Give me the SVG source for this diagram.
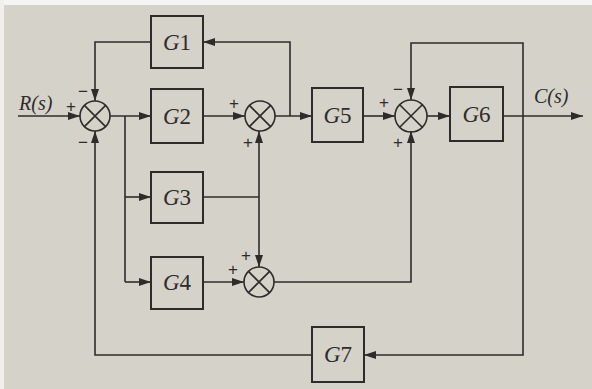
<svg xmlns="http://www.w3.org/2000/svg" width="592" height="389" viewBox="0 0 592 389">
<defs>
<marker id="ah" viewBox="0 0 12 8" refX="12" refY="4" markerWidth="12" markerHeight="8" markerUnits="userSpaceOnUse" orient="auto">
<path d="M0,0 L12,4 L0,8 z" fill="#2e2c2a"/>
</marker>
</defs>
<style>
.box{fill:none;stroke:#2e2c2a;stroke-width:2}
.sum{fill:none;stroke:#2e2c2a;stroke-width:1.6}
.w{fill:none;stroke:#2e2c2a;stroke-width:1.6}
.a{marker-end:url(#ah)}
.lbl{font-family:"Liberation Serif",serif;font-size:23px;fill:#2e2c2a;text-anchor:middle}
.sig{font-family:"Liberation Serif",serif;font-size:20px;font-style:italic;fill:#2e2c2a}
.sgn{font-family:"Liberation Sans",sans-serif;font-size:17px;fill:#2e2c2a;text-anchor:middle}
</style>
<rect x="0" y="0" width="592" height="389" fill="#d5d2ca"/>
<rect x="0" y="0" width="592" height="5" fill="#f4f4f2"/>
<rect x="0" y="0" width="4" height="389" fill="#f0efec"/>

<g id="connectors">
<path class="w a" d="M18,116 H80"/>
<path class="w a" d="M110,116 H151"/>
<path class="w a" d="M203,116 H245"/>
<path class="w a" d="M275,116 H312"/>
<path class="w a" d="M290,116 V42 H203"/>
<path class="w a" d="M151,42 H95 V101"/>
<path class="w" d="M125,116 V282"/>
<path class="w a" d="M125,197 H151"/>
<path class="w a" d="M125,282 H151"/>
<path class="w" d="M203,197 H259"/>
<path class="w a" d="M259,197 V131"/>
<path class="w a" d="M259,197 V267"/>
<path class="w a" d="M203,282 H244"/>
<path class="w a" d="M274,282 H411 V131"/>
<path class="w a" d="M363,116 H395"/>
<path class="w a" d="M427,116 H450"/>
<path class="w a" d="M503,116 H583"/>
<path class="w a" d="M523,116 V43 H411 V100"/>
<path class="w a" d="M523,116 V355 H364"/>
<path class="w a" d="M312,355 H95 V131"/>
</g>

<g id="S1"><circle class="sum" cx="95" cy="116" r="15"/><path class="sum" d="M84.4,105.4 L105.6,126.6 M105.6,105.4 L84.4,126.6"/></g>
<g id="S2"><circle class="sum" cx="260" cy="116" r="15"/><path class="sum" d="M249.4,105.4 L270.6,126.6 M270.6,105.4 L249.4,126.6"/></g>
<g id="S3"><circle class="sum" cx="259" cy="282" r="15"/><path class="sum" d="M248.4,271.4 L269.6,292.6 M269.6,271.4 L248.4,292.6"/></g>
<g id="S4"><circle class="sum" cx="411" cy="116" r="16"/><path class="sum" d="M399.7,104.7 L422.3,127.3 M422.3,104.7 L399.7,127.3"/></g>

<g id="G1"><rect class="box" x="151" y="16" width="52" height="52"/><text class="lbl" x="177" y="50"><tspan font-style="italic">G</tspan>1</text></g>
<g id="G2"><rect class="box" x="151" y="89" width="52" height="54"/><text class="lbl" x="177" y="124"><tspan font-style="italic">G</tspan>2</text></g>
<g id="G3"><rect class="box" x="151" y="172" width="52" height="51"/><text class="lbl" x="177" y="205"><tspan font-style="italic">G</tspan>3</text></g>
<g id="G4"><rect class="box" x="151" y="257" width="52" height="52"/><text class="lbl" x="177" y="290"><tspan font-style="italic">G</tspan>4</text></g>
<g id="G5"><rect class="box" x="312" y="88" width="51" height="54"/><text class="lbl" x="337.5" y="123"><tspan font-style="italic">G</tspan>5</text></g>
<g id="G6"><rect class="box" x="450" y="87" width="53" height="54"/><text class="lbl" x="476.5" y="122"><tspan font-style="italic">G</tspan>6</text></g>
<g id="G7"><rect class="box" x="312" y="327" width="52" height="55"/><text class="lbl" x="338" y="362"><tspan font-style="italic">G</tspan>7</text></g>

<g id="labels">
<text class="sig" x="19" y="110">R(s)</text>
<text class="sig" x="534" y="103">C(s)</text>
<text class="sgn" x="71" y="112">+</text>
<text class="sgn" x="83" y="97">−</text>
<text class="sgn" x="83" y="148">−</text>
<text class="sgn" x="234" y="109">+</text>
<text class="sgn" x="248" y="148">+</text>
<text class="sgn" x="246" y="261">+</text>
<text class="sgn" x="233" y="275">+</text>
<text class="sgn" x="384" y="108">+</text>
<text class="sgn" x="398" y="95">−</text>
<text class="sgn" x="398" y="148">+</text>
</g>
</svg>
